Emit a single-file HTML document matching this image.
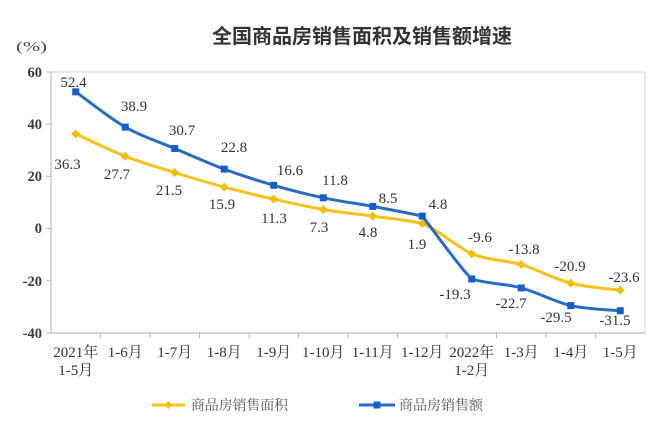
<!DOCTYPE html>
<html><head><meta charset="utf-8"><style>
html,body{margin:0;padding:0;background:#fff;}
svg{display:block;}
.t{font-family:"Liberation Serif","Noto Serif CJK SC",serif;font-size:15px;fill:#333;}
.yl{font-family:"Liberation Serif","Noto Serif CJK SC",serif;font-size:14.5px;font-weight:bold;fill:#3a3a3a;}
</style></head><body>
<svg width="670" height="432" viewBox="0 0 670 432" xmlns="http://www.w3.org/2000/svg">
<rect width="670" height="432" fill="#fff"/>
<text x="362" y="43" text-anchor="middle" style="font-family:'Liberation Sans','Noto Sans CJK SC',sans-serif;font-size:20px;font-weight:bold;fill:#333;">全国商品房销售面积及销售额增速</text>
<text x="16" y="51" textLength="31" lengthAdjust="spacingAndGlyphs" style="font-family:'Liberation Serif',serif;font-size:14px;fill:#444;">(%)</text>
<!-- plot frame -->
<rect x="51" y="72" width="594" height="261" fill="none" stroke="#d4d4d4" stroke-width="1"/>
<line x1="51" y1="72" x2="51" y2="333" stroke="#bdbdbd" stroke-width="1.2"/>
<line x1="51" y1="333" x2="645" y2="333" stroke="#bdbdbd" stroke-width="1.2"/>
<g stroke="#bdbdbd" stroke-width="1">
<line x1="46" y1="72" x2="51" y2="72"/><line x1="46" y1="124.2" x2="51" y2="124.2"/><line x1="46" y1="176.4" x2="51" y2="176.4"/><line x1="46" y1="228.6" x2="51" y2="228.6"/><line x1="46" y1="280.8" x2="51" y2="280.8"/><line x1="46" y1="333" x2="51" y2="333"/>
<line x1="100.5" y1="333" x2="100.5" y2="338"/><line x1="150" y1="333" x2="150" y2="338"/><line x1="199.5" y1="333" x2="199.5" y2="338"/><line x1="249" y1="333" x2="249" y2="338"/><line x1="298.5" y1="333" x2="298.5" y2="338"/><line x1="348" y1="333" x2="348" y2="338"/><line x1="397.5" y1="333" x2="397.5" y2="338"/><line x1="447" y1="333" x2="447" y2="338"/><line x1="496.5" y1="333" x2="496.5" y2="338"/><line x1="546" y1="333" x2="546" y2="338"/><line x1="595.5" y1="333" x2="595.5" y2="338"/>
</g>
<!-- y labels -->
<g class="yl" text-anchor="end">
<text x="42" y="77">60</text><text x="42" y="129">40</text><text x="42" y="181">20</text><text x="42" y="233">0</text><text x="42" y="286">-20</text><text x="42" y="338">-40</text>
</g>
<!-- x labels -->
<g class="t" text-anchor="middle">
<text x="75.75" y="357">2021年</text><text x="75.75" y="375">1-5月</text>
<text x="125.25" y="357">1-6月</text>
<text x="174.75" y="357">1-7月</text>
<text x="224.25" y="357">1-8月</text>
<text x="273.75" y="357">1-9月</text>
<text x="323.25" y="357">1-10月</text>
<text x="372.75" y="357">1-11月</text>
<text x="422.25" y="357">1-12月</text>
<text x="471.75" y="357">2022年</text><text x="471.75" y="375">1-2月</text>
<text x="521.25" y="357">1-3月</text>
<text x="570.75" y="357">1-4月</text>
<text x="620.25" y="357">1-5月</text>
</g>
<!-- yellow series -->
<path fill="none" stroke="#f7c21a" stroke-width="3" stroke-linejoin="round" d="M75.75,133.9 C84,137.63 108.75,149.87 125.25,156.3 C141.75,162.73 158.25,167.37 174.75,172.5 C191.25,177.63 207.75,182.67 224.25,187.1 C240.75,191.53 257.25,195.37 273.75,199.1 C290.25,202.83 306.75,206.67 323.25,209.5 C339.75,212.33 356.25,213.75 372.75,216.1 C389.25,218.45 405.75,219.5 422.25,223.6 C436,228 457,247 471.75,253.7 C488.25,260.53 504.75,259.68 521.25,264.6 C537.75,269.52 554.25,278.93 570.75,283.2 C587.25,287.47 612,289.03 620.25,290.2"/>
<g fill="#f5bd10">
<path d="M75.75,129.4 l4.5,4.5 l-4.5,4.5 l-4.5,-4.5z"/>
<path d="M125.25,151.8 l4.5,4.5 l-4.5,4.5 l-4.5,-4.5z"/>
<path d="M174.75,168 l4.5,4.5 l-4.5,4.5 l-4.5,-4.5z"/>
<path d="M224.25,182.6 l4.5,4.5 l-4.5,4.5 l-4.5,-4.5z"/>
<path d="M273.75,194.6 l4.5,4.5 l-4.5,4.5 l-4.5,-4.5z"/>
<path d="M323.25,205 l4.5,4.5 l-4.5,4.5 l-4.5,-4.5z"/>
<path d="M372.75,211.6 l4.5,4.5 l-4.5,4.5 l-4.5,-4.5z"/>
<path d="M422.25,219.1 l4.5,4.5 l-4.5,4.5 l-4.5,-4.5z"/>
<path d="M471.75,249.2 l4.5,4.5 l-4.5,4.5 l-4.5,-4.5z"/>
<path d="M521.25,260.1 l4.5,4.5 l-4.5,4.5 l-4.5,-4.5z"/>
<path d="M570.75,278.7 l4.5,4.5 l-4.5,4.5 l-4.5,-4.5z"/>
<path d="M620.25,285.7 l4.5,4.5 l-4.5,4.5 l-4.5,-4.5z"/>
</g>
<!-- blue series -->
<path fill="none" stroke="#2a6cc2" stroke-width="3" stroke-linejoin="round" d="M75.75,91.8 C84,97.68 108.75,117.65 125.25,127.1 C141.75,136.55 158.25,141.5 174.75,148.5 C191.25,155.5 207.75,162.97 224.25,169.1 C240.75,175.23 257.25,180.52 273.75,185.3 C290.25,190.08 306.75,194.28 323.25,197.8 C339.75,201.32 356.25,203.35 372.75,206.4 C389.25,209.45 405.75,212.5 422.25,216.1 C434,231 460,268 471.75,279 C488.25,284 504.75,283.47 521.25,287.9 C537.75,292.33 554.25,301.78 570.75,305.6 C587.25,309.42 612,309.93 620.25,310.8"/>
<g fill="#1560c8">
<rect x="72.25" y="88.3" width="7" height="7"/>
<rect x="121.75" y="123.6" width="7" height="7"/>
<rect x="171.25" y="145" width="7" height="7"/>
<rect x="220.75" y="165.6" width="7" height="7"/>
<rect x="270.25" y="181.8" width="7" height="7"/>
<rect x="319.75" y="194.3" width="7" height="7"/>
<rect x="369.25" y="202.9" width="7" height="7"/>
<rect x="418.75" y="212.6" width="7" height="7"/>
<rect x="468.25" y="275.5" width="7" height="7"/>
<rect x="517.75" y="284.4" width="7" height="7"/>
<rect x="567.25" y="302.1" width="7" height="7"/>
<rect x="616.75" y="307.3" width="7" height="7"/>
</g>
<!-- blue labels -->
<g class="t" text-anchor="middle">
<text x="73.5" y="87">52.4</text>
<text x="134" y="111">38.9</text>
<text x="182" y="135">30.7</text>
<text x="234" y="152">22.8</text>
<text x="290" y="175">16.6</text>
<text x="335" y="185">11.8</text>
<text x="388" y="203">8.5</text>
<text x="438" y="209">4.8</text>
<text x="455" y="299">-19.3</text>
<text x="511" y="308">-22.7</text>
<text x="556" y="322">-29.5</text>
<text x="615" y="325">-31.5</text>
</g>
<!-- yellow labels -->
<g class="t" text-anchor="middle">
<text x="67.5" y="169">36.3</text>
<text x="117" y="179">27.7</text>
<text x="169" y="195">21.5</text>
<text x="222" y="209">15.9</text>
<text x="274" y="223">11.3</text>
<text x="319" y="232">7.3</text>
<text x="368" y="237">4.8</text>
<text x="417" y="249">1.9</text>
<text x="480" y="242">-9.6</text>
<text x="524" y="254">-13.8</text>
<text x="570" y="271">-20.9</text>
<text x="624" y="282">-23.6</text>
</g>
<!-- legend -->
<line x1="152" y1="405" x2="185" y2="405" stroke="#f7c21a" stroke-width="3"/>
<path d="M168.5,401 l4,4 l-4,4 l-4,-4z" fill="#f5bd10"/>
<text x="191" y="410" textLength="97" lengthAdjust="spacingAndGlyphs" style="font-family:'Liberation Serif','Noto Serif CJK SC',serif;font-size:14px;fill:#555;">商品房销售面积</text>
<line x1="359" y1="405" x2="395" y2="405" stroke="#2a6cc2" stroke-width="3"/>
<rect x="373.5" y="401.5" width="7" height="7" fill="#1560c8"/>
<text x="399" y="410" textLength="84" lengthAdjust="spacingAndGlyphs" style="font-family:'Liberation Serif','Noto Serif CJK SC',serif;font-size:14px;fill:#555;">商品房销售额</text>
</svg>
</body></html>
